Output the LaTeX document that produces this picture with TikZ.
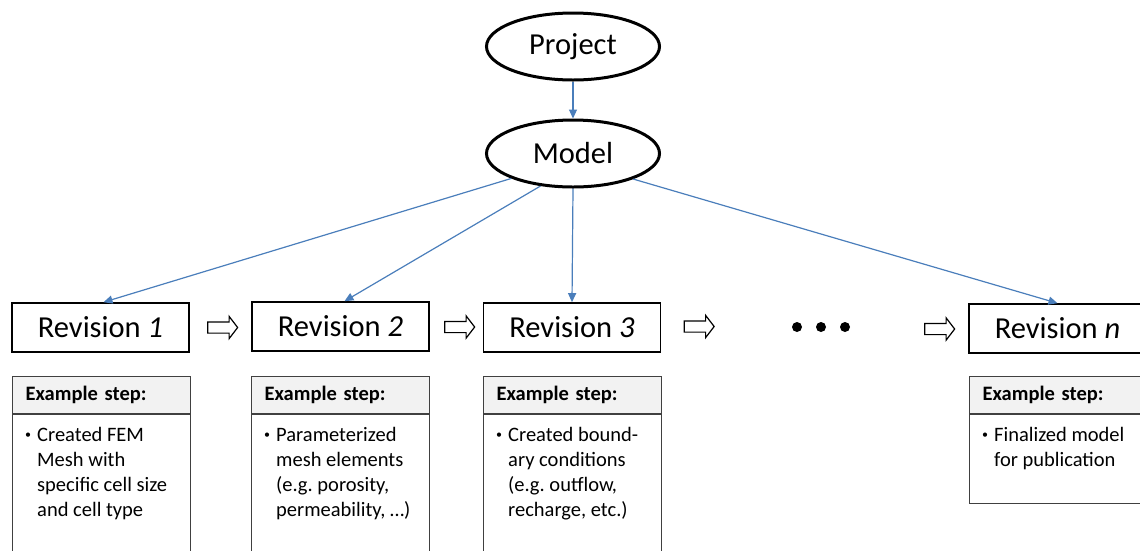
\documentclass[tikz,border=0pt]{standalone}
\usepackage{fontspec}
\setmainfont{Carlito}
\usetikzlibrary{positioning,shapes.geometric,shapes.arrows,arrows.meta}
\definecolor{linkblue}{RGB}{74,126,187}
\definecolor{headgray}{RGB}{242,242,242}
\definecolor{stepgray}{RGB}{64,64,64}
\newcommand{\stepitem}{\makebox[12pt][l]{\raisebox{2.5pt}{\fontsize{12}{12}\selectfont\textbullet}}}
\frenchspacing
\begin{document}
\begin{tikzpicture}[x=1pt, y=-1pt,
		oval/.style={ellipse, draw, line width=3pt, minimum width=173pt, minimum height=67pt, font=\fontsize{30.5}{36}\selectfont},
		revbox/.style={draw, line width=1.6pt, minimum width=177pt, minimum height=49pt, font=\fontsize{30.5}{36}\selectfont},
		stephead/.style={draw=stepgray, fill=headgray, line width=1.2pt, anchor=north west, text width=152pt, inner xsep=13pt, minimum height=37pt, font=\fontsize{20.5}{25}\selectfont\bfseries},
		stepbody/.style={draw=stepgray, line width=1.2pt, minimum width=178pt},
		steptext/.style={anchor=north west, inner sep=0pt, font=\fontsize{20.5}{25}\selectfont\frenchspacing},
		nextarrow/.style={single arrow, draw, line width=1.2pt, minimum height=30pt, single arrow head extend=5.5pt, inner xsep=0pt, inner ysep=5pt, single arrow tip angle=105},
		dotnode/.style={circle, fill, inner sep=0pt, minimum size=10pt},
		link/.style={draw=linkblue, line width=1.2pt, -{Triangle[length=9pt,width=8pt]}}]
			\useasboundingbox (0,0) rectangle (1140,550);
			\clip (0,0) rectangle (1140,550);
			
			%project and model
			\node[oval] (project) at (573,46.5) {Project};
			\node[oval] (model) at (573,153.5) {Model};
			
			%revisions
			\node[revbox] (rev1) at (100.5,327.5) {Revision \textit{1}};
			\node[revbox] (rev2) at (340.5,326.5) {Revision \textit{2}};
			\node[revbox] (rev3) at (572,327.5) {Revision \textit{3}};
			\node[revbox] (revn) at (1057.5,328.5) {Revision \textit{n}};
			
			\node[nextarrow] (a1) at (220.5,327.5) {};
			\node[nextarrow] (a2) at (457.5,327) {};
			\node[nextarrow] (a3) at (697,326.5) {};
			\node[nextarrow] (a4) at (937.5,329) {};
			
			\foreach \x/\n in {797/d1, 821/d2, 845/d3}{
				\node[dotnode] (\n) at (\x,327) {};
			}
			
			%example steps
			\node[stephead] (h1) at (12,376) {Example step:};
			\node[stephead] (h2) at (251,376) {Example step:};
			\node[stephead] (h3) at (483,376) {Example step:};
			\node[stephead] (hn) at (969,376) {Example step:};
			\node[stepbody, below=0pt of h1, minimum height=200pt] (b1) {};
			\node[stepbody, below=0pt of h2, minimum height=200pt] (b2) {};
			\node[stepbody, below=0pt of h3, minimum height=200pt] (b3) {};
			\node[stepbody, below=0pt of hn, minimum height=89pt] (bn) {};
			
			\node[steptext] (t1) at ([xshift=13pt, yshift=-9.5pt]b1.north west) {\begin{tabular}{@{}l@{}l@{}}
					\stepitem & Created FEM\\ & Mesh with\\ & specific cell size\\ & and cell type
				\end{tabular}};
			\node[steptext] (t2) at ([xshift=13pt, yshift=-9.5pt]b2.north west) {\begin{tabular}{@{}l@{}l@{}}
					\stepitem & Parameterized\\ & mesh elements\\ & (e.g. porosity,\\ & permeability, \dots)
				\end{tabular}};
			\node[steptext] (t3) at ([xshift=13pt, yshift=-9.5pt]b3.north west) {\begin{tabular}{@{}l@{}l@{}}
					\stepitem & Created bound-\\ & ary conditions\\ & (e.g. outflow,\\ & recharge, etc.)
				\end{tabular}};
			\node[steptext] (tn) at ([xshift=13pt, yshift=-9.5pt]bn.north west) {\begin{tabular}{@{}l@{}l@{}}
					\stepitem & Finalized model\\ & for publication
				\end{tabular}};
			
			%links
			\draw[link] (project) -- (model);
			\draw[link] (model.202) -- ([xshift=3pt]rev1.north);
			\draw[link] (model.225) -- ([xshift=4pt]rev2.north);
			\draw[link] (model.270) -- (rev3.north);
			\draw[link] (model.337) -- (revn.north);
		\end{tikzpicture}
\end{document}
